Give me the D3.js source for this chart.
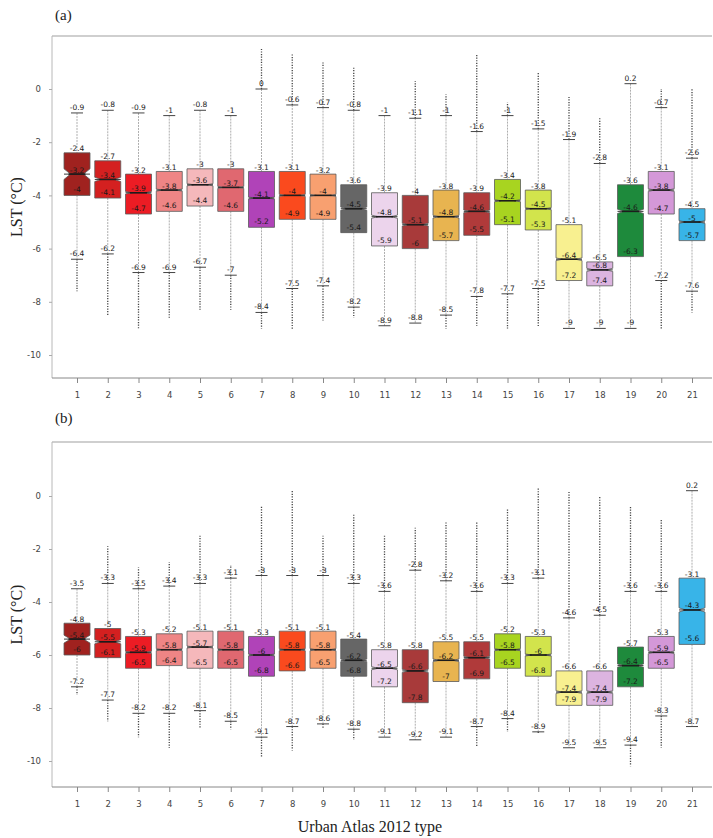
<!DOCTYPE html>
<html>
<head>
<meta charset="utf-8">
<script src="https://cdn.jsdelivr.net/npm/d3@7"></script>
<style>
  body { margin: 0; background: #fff; }
  svg { display: block; }
</style>
</head>
<body>
<svg id="chart" width="713" height="838"></svg>
<script>
// ---------- DATA ----------
const categories = ["1","2","3","4","5","6","7","8","9","10","11","12","13","14","15","16","17","18","19","20","21"];
const colors = ["#a0221f","#d42020","#ec1c24","#ef8585","#f5b8bb","#e06870","#b043b8","#fa4a1e","#f8a070",
                "#666666","#ecd4ec","#a83a3a","#e8b450","#b03a3a","#a8d420","#d2e44c","#f8f090","#dcb4e0",
                "#1e8a3c","#d498d8","#38b4e8"];
const yTicks = [0, -2, -4, -6, -8, -10];

// Panel (a)
const aUpper = [-0.9,-0.8,-0.9,-1,-0.8,-1,0,-0.6,-0.7,-0.8,-1,-1.1,-1,-1.6,-1,-1.5,-1.9,-2.8,0.2,-0.7,-2.6];
const aQ3    = [-2.4,-2.7,-3.2,-3.1,-3,-3,-3.1,-3.1,-3.2,-3.6,-3.9,-4,-3.8,-3.9,-3.4,-3.8,-5.1,-6.5,-3.6,-3.1,-4.5];
const aMed   = [-3.2,-3.4,-3.9,-3.8,-3.6,-3.7,-4.1,-4,-4,-4.5,-4.8,-5.1,-4.8,-4.6,-4.2,-4.5,-6.4,-6.8,-4.6,-3.8,-5];
const aQ1    = [-4,-4.1,-4.7,-4.6,-4.4,-4.6,-5.2,-4.9,-4.9,-5.4,-5.9,-6,-5.7,-5.5,-5.1,-5.3,-7.2,-7.4,-6.3,-4.7,-5.7];
const aLower = [-6.4,-6.2,-6.9,-6.9,-6.7,-7,-8.4,-7.5,-7.4,-8.2,-8.9,-8.8,-8.5,-7.8,-7.7,-7.5,-9,-9,-9,-7.2,-7.6];
const aOutHi = [null,null,null,null,null,null,1.5,1.3,1.0,0.8,null,0.3,-0.2,1.3,-0.5,0.6,-0.3,-1.1,null,0.0,0.0];
const aOutLo = [-7.6,-8.5,-9.0,-8.6,-8.3,-8.3,-9.0,-9.05,-8.7,-8.6,null,null,-9.0,-8.9,-9.0,-8.95,null,null,null,-9.0,-8.4];
const aNotch = [0.2,0.08,0.05,0.04,0.04,0.04,0.04,0.04,0.04,0.06,0.06,0.05,0.05,0.05,0.04,0.04,0.05,0.06,0.08,0.05,0.05];

// Panel (b)
const bUpper = [-3.5,-3.3,-3.5,-3.4,-3.3,-3.1,-3,-3,-3,-3.3,-3.6,-2.8,-3.2,-3.6,-3.3,-3.1,-4.6,-4.5,-3.6,-3.6,0.2];
const bQ3    = [-4.8,-5,-5.3,-5.2,-5.1,-5.1,-5.3,-5.1,-5.1,-5.4,-5.8,-5.8,-5.5,-5.5,-5.2,-5.3,-6.6,-6.6,-5.7,-5.3,-3.1];
const bMed   = [-5.4,-5.5,-5.9,-5.8,-5.7,-5.8,-6,-5.8,-5.8,-6.2,-6.5,-6.6,-6.2,-6.1,-5.8,-6,-7.4,-7.4,-6.4,-5.9,-4.3];
const bQ1    = [-6,-6.1,-6.5,-6.4,-6.5,-6.5,-6.8,-6.6,-6.5,-6.8,-7.2,-7.8,-7,-6.9,-6.5,-6.8,-7.9,-7.9,-7.2,-6.5,-5.6];
const bLower = [-7.2,-7.7,-8.2,-8.2,-8.1,-8.5,-9.1,-8.7,-8.6,-8.8,-9.1,-9.2,-9.1,-8.7,-8.4,-8.9,-9.5,-9.5,-9.4,-8.3,-8.7];
const bOutHi = [null,-1.9,-2.7,-2.5,-1.5,-2.6,-0.4,0.2,-1.5,-0.7,-1.5,-1.2,-1.0,-1.0,-0.5,0.3,0.2,0.0,-0.4,-0.85,null];
const bOutLo = [-7.5,-8.5,-9.1,-9.5,-8.75,-8.8,-9.85,-9.6,-8.75,-9.2,null,null,null,-9.45,-8.9,-9.0,null,null,-10.2,-9.5,null];
const bNotch = [0.15,0.08,0.04,0.04,0.04,0.04,0.04,0.04,0.04,0.05,0.06,0.06,0.05,0.05,0.04,0.04,0.05,0.05,0.06,0.05,0.08];

const panels = [
  { tag: "(a)", up: aUpper, q3: aQ3, med: aMed, q1: aQ1, lo: aLower, oHi: aOutHi, oLo: aOutLo, notch: aNotch,
    top: 36, bottom: 378, y0: 89, y10: 355, tagY: 20 },
  { tag: "(b)", up: bUpper, q3: bQ3, med: bMed, q1: bQ1, lo: bLower, oHi: bOutHi, oLo: bOutLo, notch: bNotch,
    top: 442, bottom: 787, y0: 496, y10: 761, tagY: 423 }
];

// ---------- DRAW ----------
const svg = d3.select("#chart");
const left = 52, right = 712;
const x = d3.scalePoint().domain(categories).range([77, 692]);
const boxW = 26;
const fmt = v => String(v);

panels.forEach(p => {
  const y = d3.scaleLinear().domain([0, -10]).range([p.y0, p.y10]);
  const g = svg.append("g");

  // frame (top + left)
  g.append("line").attr("x1", left).attr("x2", right).attr("y1", p.top).attr("y2", p.top)
    .attr("stroke", "#a0a0a0").attr("stroke-width", 1.2);
  g.append("line").attr("x1", left).attr("x2", left).attr("y1", p.top).attr("y2", p.bottom)
    .attr("stroke", "#b8b8b8").attr("stroke-width", 1);

  // axes
  const ax = g.append("g").attr("transform", `translate(0,${p.bottom})`)
    .call(d3.axisBottom(x).tickSize(5).tickPadding(9).tickSizeOuter(0));
  ax.select(".domain").attr("stroke", "#888").attr("d", `M${left},0H${right}`);
  ax.selectAll(".tick line").attr("stroke", "#888");
  ax.selectAll("text").attr("font-family", "DejaVu Sans, sans-serif").attr("font-size", 8.5).attr("fill", "#444");

  const ay = g.append("g").attr("transform", `translate(${left},0)`)
    .call(d3.axisLeft(y).tickValues(yTicks).tickSize(3).tickPadding(8).tickFormat(d => String(d)));
  ay.select(".domain").remove();
  ay.selectAll(".tick line").attr("stroke", "#aaa");
  ay.selectAll("text").attr("font-family", "DejaVu Sans, sans-serif").attr("font-size", 8.5).attr("fill", "#444");

  // panel tag
  g.append("text").attr("x", 55).attr("y", p.tagY).text(p.tag)
    .attr("font-family", "Liberation Serif, serif").attr("font-size", 15).attr("fill", "#222");

  // y label
  g.append("text")
    .attr("transform", `translate(22,${(p.top + p.bottom) / 2}) rotate(-90)`)
    .attr("text-anchor", "middle")
    .attr("font-family", "Liberation Serif, serif").attr("font-size", 16).attr("fill", "#222")
    .text("LST (°C)");

  categories.forEach((c, i) => {
    const cx = x(c);
    // outliers (dense dotted runs beyond whiskers)
    if (p.oHi[i] !== null) {
      g.append("line").attr("x1", cx).attr("x2", cx).attr("y1", y(p.up[i])).attr("y2", y(p.oHi[i]))
        .attr("stroke", "#444").attr("stroke-width", 1.3).attr("stroke-dasharray", "1.2,1.4");
    }
    if (p.oLo[i] !== null) {
      g.append("line").attr("x1", cx).attr("x2", cx).attr("y1", y(p.lo[i])).attr("y2", y(p.oLo[i]))
        .attr("stroke", "#444").attr("stroke-width", 1.3).attr("stroke-dasharray", "1.2,1.4");
    }
    // whiskers
    g.append("line").attr("x1", cx).attr("x2", cx).attr("y1", y(p.up[i])).attr("y2", y(p.q3[i]))
      .attr("stroke", "#999").attr("stroke-width", 0.8).attr("stroke-dasharray", "2,1");
    g.append("line").attr("x1", cx).attr("x2", cx).attr("y1", y(p.q1[i])).attr("y2", y(p.lo[i]))
      .attr("stroke", "#999").attr("stroke-width", 0.8).attr("stroke-dasharray", "2,1");
    // caps
    [p.up[i], p.lo[i]].forEach(v => {
      g.append("line").attr("x1", cx - 6).attr("x2", cx + 6).attr("y1", y(v)).attr("y2", y(v))
        .attr("stroke", "#444").attr("stroke-width", 1);
    });
    // notched box
    const hw = boxW / 2, nw = hw * 0.5;
    const yt = y(p.q3[i]), yb = y(p.q1[i]), ym = y(p.med[i]);
    const nu = y(p.med[i] + p.notch[i]), nd = y(p.med[i] - p.notch[i]);
    const path = `M${cx - hw},${yt}H${cx + hw}V${nu}L${cx + nw},${ym}L${cx + hw},${nd}V${yb}H${cx - hw}V${nd}L${cx - nw},${ym}L${cx - hw},${nu}Z`;
    g.append("path").attr("d", path).attr("fill", colors[i]).attr("stroke", "#5a5a5a").attr("stroke-width", 0.8);
    // median
    g.append("line").attr("x1", cx - nw - 2).attr("x2", cx + nw + 2).attr("y1", ym).attr("y2", ym)
      .attr("stroke", "#111").attr("stroke-width", 1.5);
    g.append("line").attr("x1", cx - hw).attr("x2", cx + hw).attr("y1", ym).attr("y2", ym)
      .attr("stroke", "#222").attr("stroke-width", 0.9);

    // value labels
    const lab = (v, yy) => g.append("text").attr("x", cx).attr("y", yy).attr("text-anchor", "middle")
      .attr("font-family", "DejaVu Sans, sans-serif").attr("font-size", 7.5).attr("fill", "#1a1a1a").text(fmt(v));
    lab(p.up[i], y(p.up[i]) - 3);
    lab(p.q3[i], yt - 1.5);
    lab(p.med[i], ym - 1.5);
    lab(p.q1[i], yb - 3);
    lab(p.lo[i], y(p.lo[i]) - 3);
  });
});

// x title
svg.append("text").attr("x", 370).attr("y", 832).attr("text-anchor", "middle")
  .attr("font-family", "Liberation Serif, serif").attr("font-size", 16).attr("fill", "#222")
  .text("Urban Atlas 2012 type");
</script>
</body>
</html>
